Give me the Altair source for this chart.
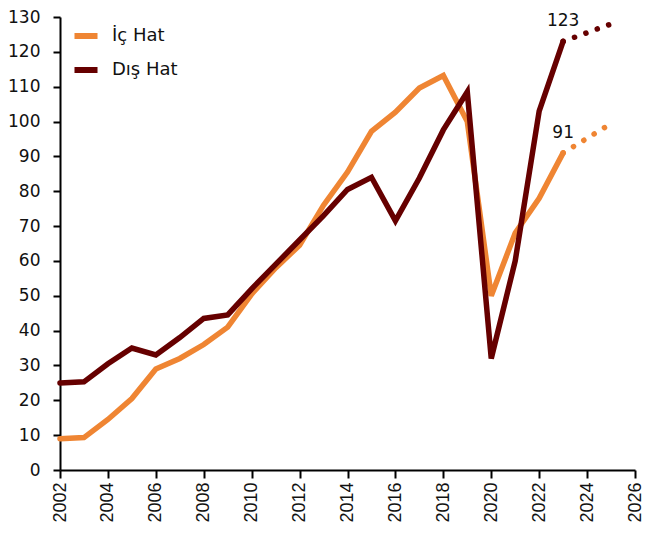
import altair as alt
import pandas as pd

years = list(range(2002, 2024))
ic_hat = [9.0, 9.3, 14.5, 20.5, 29.0, 32.0, 36.0, 41.0, 50.5, 58.0, 64.5, 76.0,
          85.5, 97.2, 102.7, 109.6, 113.2, 100.0, 50.0, 68.0, 78.0, 91.0]
dis_hat = [25.0, 25.3, 30.5, 35.0, 33.0, 38.0, 43.5, 44.5, 52.0, 59.0, 66.0, 73.0,
           80.5, 84.0, 71.5, 83.8, 97.6, 108.5, 32.0, 60.0, 103.0, 123.0]
proj_years = [2023, 2024, 2025]
ic_proj = [91.0, 95.2, 99.4]
dis_proj = [123.0, 125.5, 128.0]
series = ["İç Hat", "Dış Hat"]
colors = ["#EF8533", "#660000"]
end_labels = ["91", "123"]

df = pd.DataFrame({
    "year": years * 2,
    "value": ic_hat + dis_hat,
    "series": [series[0]] * len(years) + [series[1]] * len(years),
})
dfp = pd.DataFrame({
    "year": proj_years * 2,
    "value": ic_proj + dis_proj,
    "series": [series[0]] * len(proj_years) + [series[1]] * len(proj_years),
})
dfl = pd.DataFrame({
    "year": [2023, 2023],
    "value": [ic_hat[-1], dis_hat[-1]],
    "label": end_labels,
})

color_scale = alt.Scale(domain=series, range=colors)
legend = alt.Legend(title=None, orient="none", legendX=11, legendY=4,
                    symbolType="stroke", symbolStrokeWidth=6,
                    symbolSize=530, labelFont="DejaVu Sans",
                    labelFontSize=18, labelOffset=11, rowPadding=7,
                    labelColor="#111111")
x_enc = alt.X("year:Q", scale=alt.Scale(domain=[2002, 2026], nice=False),
              axis=alt.Axis(values=list(range(2002, 2027, 2)), format="d", title=None,
                            labelAngle=-90, labelAlign="right", labelBaseline="middle",
                            labelFont="Liberation Sans", labelFontSize=18, labelPadding=4,
                            labelOverlap=False, tickSize=8, grid=False))
y_enc = alt.Y("value:Q", scale=alt.Scale(domain=[0, 130], nice=False),
              axis=alt.Axis(values=list(range(0, 131, 10)), title=None,
                            labelFont="DejaVu Sans", labelFontSize=17, labelPadding=13,
                            labelOverlap=False, tickSize=7, grid=False))

lines = alt.Chart(df).mark_line(strokeWidth=5.5, strokeCap="round", strokeJoin="miter").encode(
    x=x_enc, y=y_enc,
    color=alt.Color("series:N", scale=color_scale, sort=series, legend=legend),
)

proj = alt.Chart(dfp).mark_line(strokeWidth=5.5, strokeCap="round", strokeDash=[0.1, 12]).encode(
    x=x_enc, y=y_enc,
    color=alt.Color("series:N", scale=color_scale, sort=series, legend=legend),
)

labels = alt.Chart(dfl).mark_text(font="DejaVu Sans", fontSize=17, dy=-20, color="#111111").encode(
    x=x_enc, y=y_enc, text="label:N",
)

chart = alt.layer(lines, proj, labels).properties(
    width=575, height=453,
    autosize=alt.AutoSizeParams(type="none"),
    padding={"left": 52, "top": 9, "right": 10, "bottom": 55},
).configure_view(stroke=None).configure_axis(
    domainColor="black", domainWidth=2, tickColor="black", tickWidth=2, labelColor="#111111",
)

chart.save("out.html", embed_options={"renderer": "svg", "actions": False})
